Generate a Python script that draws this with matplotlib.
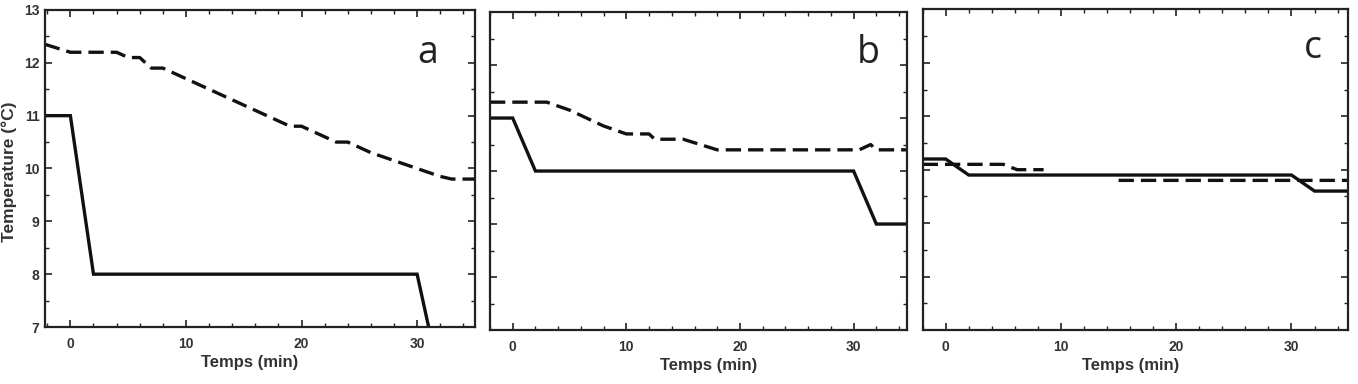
import matplotlib.pyplot as plt
from matplotlib.ticker import MultipleLocator
import numpy as np

plt.rcParams['font.family'] = ['Liberation Sans', 'DejaVu Sans']

# Panel a
a_solid_t = [-2.2, 0, 2, 30, 31]
a_solid_T = [11.0, 11.0, 8.0, 8.0, 7.0]
a_dash_t = [-2.2, 0, 4, 5, 6, 7, 8, 10, 12, 14, 16, 18, 19, 20, 22, 23, 24, 26, 28, 30, 32, 33, 35]
a_dash_T = [12.35, 12.2, 12.2, 12.1, 12.1, 11.9, 11.9, 11.7, 11.5, 11.3, 11.1, 10.9, 10.8, 10.8,
            10.6, 10.5, 10.5, 10.3, 10.15, 10.0, 9.85, 9.8, 9.8]

# Panel b
b_solid_t = [-2, 0, 2, 30, 32, 35]
b_solid_T = [11.0, 11.0, 10.0, 10.0, 9.0, 9.0]
b_dash_t = [-2, 3, 5, 7, 8, 10, 12, 12.5, 15, 18, 30.5, 31.5, 32, 35]
b_dash_T = [11.3, 11.3, 11.15, 10.95, 10.85, 10.7, 10.7, 10.6, 10.6, 10.4, 10.4, 10.5, 10.4, 10.4]

# Panel c (dashed series has a gap between 8.5 and 15 min)
c_solid_t = [-2, 0, 2, 30, 32, 35]
c_solid_T = [10.2, 10.2, 9.9, 9.9, 9.6, 9.6]
c_dash_t = [-2, 5, 6.2, 8.5, np.nan, 15, 35]
c_dash_T = [10.1, 10.1, 10.0, 10.0, np.nan, 9.8, 9.8]

panels = [
    ("a", a_solid_t, a_solid_T, a_dash_t, a_dash_T),
    ("b", b_solid_t, b_solid_T, b_dash_t, b_dash_T),
    ("c", c_solid_t, c_solid_T, c_dash_t, c_dash_T),
]

# axes rectangles in figure fractions (left, bottom, width, height)
rects = [
    (0.0331, 0.1484, 0.3166, 0.8256),
    (0.3608, 0.1406, 0.3071, 0.8280),
    (0.6794, 0.1406, 0.3132, 0.8350),
]
xlims = [(-2.2, 35.0), (-2.0, 34.7), (-2.0, 34.9)]
letter_pos = [(0.89, 0.833), (0.906, 0.84), (0.918, 0.848)]
xlabel_x = [0.477, 0.525, 0.49]

fig = plt.figure(figsize=(13.58, 3.84), dpi=100)

for i, (letter, st, sT, dt, dT) in enumerate(panels):
    ax = fig.add_axes(rects[i])
    ax.plot(st, sT, color='#111111', lw=2.4, solid_joinstyle='miter')
    ax.plot(dt, dT, color='#111111', lw=2.4, dashes=(4.6, 2.1))

    ax.set_xlim(*xlims[i])
    ax.set_ylim(7, 13)
    ax.xaxis.set_major_locator(MultipleLocator(10))
    ax.xaxis.set_minor_locator(MultipleLocator(2))
    ax.yaxis.set_major_locator(MultipleLocator(1))
    ax.yaxis.set_minor_locator(MultipleLocator(0.5))
    ax.tick_params(which='both', direction='in', top=True, right=True, color='#222222')
    ax.tick_params(which='major', length=5, width=1.2)
    ax.tick_params(which='minor', length=3, width=1.0)
    ax.tick_params(axis='x', which='major', pad=7)
    ax.tick_params(axis='y', which='major', pad=4)
    for lab in ax.get_xticklabels() + ax.get_yticklabels():
        lab.set_fontweight('bold')
        lab.set_fontsize(10)
        lab.set_color('#333333')
    for sp in ax.spines.values():
        sp.set_linewidth(1.6)
        sp.set_color('#222222')

    if i == 0:
        ax.set_ylabel("Temperature (°C)", fontsize=12.5, fontweight='bold', color='#333333')
        ax.yaxis.set_label_coords(-0.066, 0.49)
    else:
        ax.set_yticklabels([])

    ax.set_xlabel("Temps (min)", fontsize=12, fontweight='bold', color='#333333')
    ax.xaxis.set_label_coords(xlabel_x[i], -0.088)

    ax.text(letter_pos[i][0], letter_pos[i][1], letter, transform=ax.transAxes,
            fontsize=27, family=['Open Sans', 'DejaVu Sans'], color='#222222',
            ha='center', va='baseline')

fig.savefig("out.png", dpi=100)
